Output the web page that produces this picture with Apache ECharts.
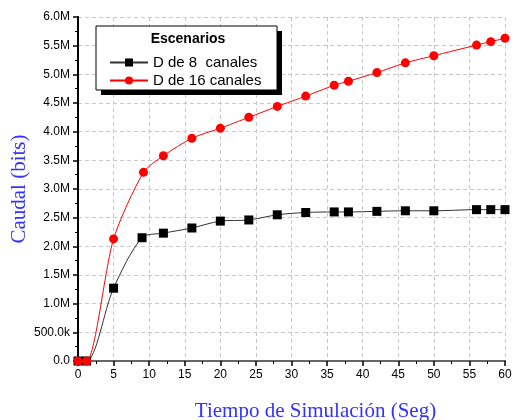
<!DOCTYPE html>
<html lang="es">
<head>
    <meta charset="UTF-8">
    <title>Caudal vs Tiempo de Simulación</title>
    <script src="https://cdn.jsdelivr.net/npm/echarts@6/dist/echarts.min.js"></script>
</head>
<body style="margin:0;background:#fff;">
<div id="chart" style="width:516px;height:420px;"></div>
<script>
    // datos (tiempo en seg, caudal en bits)
    var tiempo8 = [0, 1.2, 5, 9, 12, 16, 20, 24, 28, 32, 36, 38, 42, 46, 50, 56, 58, 60];
    var caudal8 = [0, 0, 1.27e6, 2.15e6, 2.23e6, 2.32e6, 2.44e6, 2.46e6, 2.55e6, 2.59e6, 2.60e6, 2.60e6, 2.61e6, 2.62e6, 2.62e6, 2.64e6, 2.64e6, 2.64e6];
    var tiempo16 = [0, 1.2, 5, 9.2, 12, 16, 20, 24, 28, 32, 36, 38, 42, 46, 50, 56, 58, 60];
    var caudal16 = [0, 0, 2.13e6, 3.29e6, 3.58e6, 3.885e6, 4.06e6, 4.25e6, 4.44e6, 4.62e6, 4.81e6, 4.88e6, 5.03e6, 5.20e6, 5.325e6, 5.51e6, 5.57e6, 5.63e6];
    var nombres = ['D de 8  canales', 'D de 16 canales'];

    function pares(xs, ys) {
        var out = [];
        for (var i = 0; i < xs.length; i++) out.push([xs[i], ys[i]]);
        return out;
    }
    function etiquetaY(v) {
        if (v === 0) return '0.0';
        if (v < 1e6) return (v / 1000).toFixed(1) + 'k';
        return (v / 1e6).toFixed(1) + 'M';
    }

    var myChart = echarts.init(document.getElementById('chart'));
    var fuente = 'Liberation Sans, Arial, sans-serif';
    var serif = 'Liberation Serif, DejaVu Serif, serif';
    var option = {
        animation: false,
        grid: { left: 78, right: 11, top: 17, bottom: 59, outerBoundsMode: 'none' },
        graphic: [
            { type: 'rect', shape: { x: 101, y: 31, width: 181, height: 64 }, style: { fill: '#000' }, z: 100 },
            { type: 'rect', shape: { x: 96, y: 26, width: 181, height: 64 }, style: { fill: '#fff', stroke: '#000', lineWidth: 1 }, z: 101 },
            { type: 'text', x: 188, y: 39, style: { text: 'Escenarios', font: 'bold 14px ' + fuente, fill: '#000', align: 'center', verticalAlign: 'middle' }, z: 102 }
        ],
        legend: {
            data: nombres,
            orient: 'vertical',
            left: 104,
            top: 50,
            itemWidth: 38,
            itemHeight: 10,
            itemGap: 3,
            z: 110,
            textStyle: { fontFamily: fuente, fontSize: 15, color: '#000' }
        },
        xAxis: [{
            type: 'value', min: 0, max: 60, interval: 5,
            name: 'Tiempo de Simulación (Seg)', nameLocation: 'middle', nameGap: 40,
            nameTextStyle: { fontFamily: serif, fontSize: 21, color: '#3333ff', padding: [0, 0, 0, 48] },
            axisLine: { lineStyle: { color: '#000', width: 2 } },
            axisTick: { length: 5, lineStyle: { color: '#000', width: 1.5 } },
            minorTick: { show: true, splitNumber: 2, length: 3, lineStyle: { color: '#000' } },
            axisLabel: { fontFamily: fuente, fontSize: 12, color: '#000', margin: 8 },
            splitLine: { show: true, lineStyle: { color: '#c8c8c8', type: [4, 3] } }
        }, {
            type: 'value', min: 0, max: 60, position: 'top',
            axisLine: { lineStyle: { color: '#888', width: 1.5 } },
            axisTick: { show: false }, axisLabel: { show: false }, splitLine: { show: false }
        }],
        yAxis: [{
            type: 'value', min: 0, max: 6e6, interval: 5e5,
            name: 'Caudal (bits)', nameLocation: 'middle', nameGap: 48, nameMoveOverlap: false,
            nameTextStyle: { fontFamily: serif, fontSize: 21, color: '#3333ff' },
            axisLine: { show: true, lineStyle: { color: '#000', width: 2 } },
            axisTick: { show: true, length: 5, lineStyle: { color: '#000', width: 1.5 } },
            minorTick: { show: true, splitNumber: 2, length: 3, lineStyle: { color: '#000' } },
            axisLabel: { fontFamily: fuente, fontSize: 12, color: '#000', margin: 8, formatter: etiquetaY },
            splitLine: { show: true, lineStyle: { color: '#c8c8c8', type: [4, 3] } }
        }, {
            type: 'value', min: 0, max: 6e6, position: 'right',
            axisLine: { show: true, lineStyle: { color: '#000', width: 1 } },
            axisTick: { show: false }, axisLabel: { show: false }, splitLine: { show: false }
        }],
        series: [
            {
                name: nombres[0],
                type: 'line',
                smooth: 0.3,
                data: pares(tiempo8, caudal8),
                symbol: 'rect',
                symbolSize: 9,
                lineStyle: { color: '#333', width: 1 },
                itemStyle: { color: '#000' },
                z: 3
            },
            {
                name: nombres[1],
                type: 'line',
                smooth: 0.25,
                data: pares(tiempo16, caudal16),
                symbol: 'circle',
                symbolSize: 9,
                lineStyle: { color: '#ff0000', width: 1 },
                itemStyle: { color: '#ff0000' },
                z: 4
            }
        ]
    };
    myChart.setOption(option);
</script>
</body>
</html>
